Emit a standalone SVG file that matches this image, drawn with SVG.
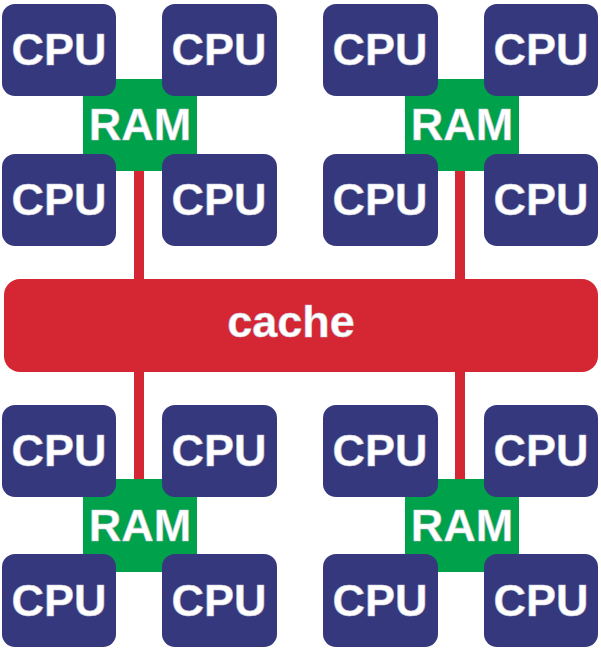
<svg xmlns="http://www.w3.org/2000/svg" width="601" height="651" viewBox="0 0 601 651">
<style>
.cpu rect{fill:#35387c}
.ram rect{fill:#00a14b}
.t{font-family:"Liberation Sans",Arial,sans-serif;font-weight:bold;font-size:45px;fill:#fff;text-anchor:middle;stroke:#c8c8d8;stroke-width:0.6}
.link{stroke:#d52633;stroke-width:10;fill:none}
</style>
<rect width="601" height="651" fill="#fff"/>
<g id="connectors">
<line class="link" x1="139" y1="168" x2="139" y2="285"/>
<line class="link" x1="460" y1="168" x2="460" y2="285"/>
<line class="link" x1="139" y1="366" x2="139" y2="482"/>
<line class="link" x1="460" y1="366" x2="460" y2="482"/>
</g>
<g id="cache">
<rect x="4" y="279" width="594" height="93" rx="16" fill="#d52633"/>
<text class="t" x="291" y="337" stroke="none">cache</text>
</g>
<!-- top-left cluster -->
<g id="ram1" class="ram"><rect x="83" y="79" width="114" height="92"/><text class="t" x="140" y="140">RAM</text></g>
<g id="cpu1" class="cpu"><rect x="2" y="4" width="114" height="92" rx="13"/><text class="t" x="59" y="65">CPU</text></g>
<g id="cpu2" class="cpu"><rect x="162" y="4" width="115" height="92" rx="13"/><text class="t" x="219" y="65">CPU</text></g>
<g id="cpu3" class="cpu"><rect x="2" y="154" width="114" height="92" rx="13"/><text class="t" x="59" y="215">CPU</text></g>
<g id="cpu4" class="cpu"><rect x="162" y="154" width="115" height="92" rx="13"/><text class="t" x="219" y="215">CPU</text></g>
<!-- top-right cluster -->
<g id="ram2" class="ram"><rect x="405" y="79" width="114" height="92"/><text class="t" x="462" y="140">RAM</text></g>
<g id="cpu5" class="cpu"><rect x="323" y="4" width="115" height="92" rx="13"/><text class="t" x="380" y="65">CPU</text></g>
<g id="cpu6" class="cpu"><rect x="484" y="4" width="114" height="92" rx="13"/><text class="t" x="541" y="65">CPU</text></g>
<g id="cpu7" class="cpu"><rect x="323" y="154" width="115" height="92" rx="13"/><text class="t" x="380" y="215">CPU</text></g>
<g id="cpu8" class="cpu"><rect x="484" y="154" width="114" height="92" rx="13"/><text class="t" x="541" y="215">CPU</text></g>
<!-- bottom-left cluster -->
<g id="ram3" class="ram"><rect x="83" y="479" width="114" height="93"/><text class="t" x="140" y="541">RAM</text></g>
<g id="cpu9" class="cpu"><rect x="2" y="405" width="114" height="92" rx="13"/><text class="t" x="59" y="466">CPU</text></g>
<g id="cpu10" class="cpu"><rect x="162" y="405" width="115" height="92" rx="13"/><text class="t" x="219" y="466">CPU</text></g>
<g id="cpu11" class="cpu"><rect x="2" y="554" width="114" height="93" rx="13"/><text class="t" x="59" y="616">CPU</text></g>
<g id="cpu12" class="cpu"><rect x="162" y="554" width="115" height="93" rx="13"/><text class="t" x="219" y="616">CPU</text></g>
<!-- bottom-right cluster -->
<g id="ram4" class="ram"><rect x="405" y="479" width="114" height="93"/><text class="t" x="462" y="541">RAM</text></g>
<g id="cpu13" class="cpu"><rect x="323" y="405" width="115" height="92" rx="13"/><text class="t" x="380" y="466">CPU</text></g>
<g id="cpu14" class="cpu"><rect x="484" y="405" width="114" height="92" rx="13"/><text class="t" x="541" y="466">CPU</text></g>
<g id="cpu15" class="cpu"><rect x="323" y="554" width="115" height="93" rx="13"/><text class="t" x="380" y="616">CPU</text></g>
<g id="cpu16" class="cpu"><rect x="484" y="554" width="114" height="93" rx="13"/><text class="t" x="541" y="616">CPU</text></g>
</svg>
